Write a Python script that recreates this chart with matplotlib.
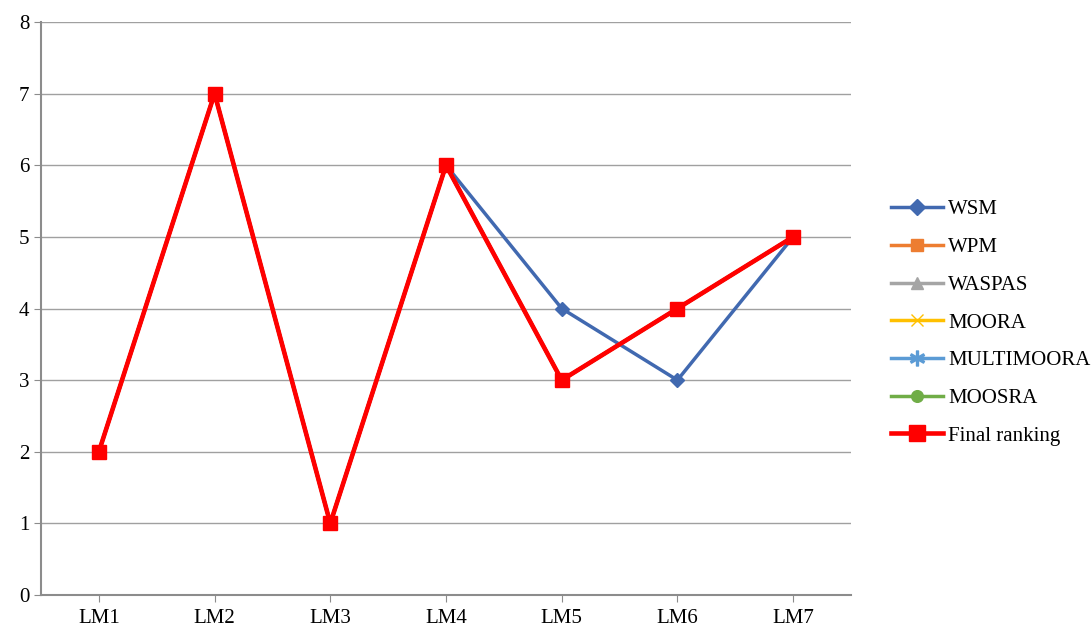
import matplotlib.pyplot as plt
import numpy as np

categories = ['LM1', 'LM2', 'LM3', 'LM4', 'LM5', 'LM6', 'LM7']
wsm = [2, 7, 1, 6, 4, 3, 5]
wpm = [2, 7, 1, 6, 3, 4, 5]
waspas = [2, 7, 1, 6, 3, 4, 5]
moora = [2, 7, 1, 6, 3, 4, 5]
multimoora = [2, 7, 1, 6, 3, 4, 5]
moosra = [2, 7, 1, 6, 3, 4, 5]
final = [2, 7, 1, 6, 3, 4, 5]

series = [
    ('WSM', wsm, '#4169B0', 'D', 7),
    ('WPM', wpm, '#ED7D31', 's', 7),
    ('WASPAS', waspas, '#A5A5A5', '^', 7),
    ('MOORA', moora, '#FFC000', 'x', 7),
    ('MULTIMOORA', multimoora, '#5B9BD5', '$\\ast$', 9),
    ('MOOSRA', moosra, '#70AD47', 'o', 7),
]

plt.rcParams['font.family'] = ['Liberation Serif', 'DejaVu Serif']

fig = plt.figure(figsize=(10.91, 6.28), dpi=100)
ax = fig.add_axes([41 / 1091, 1 - 595 / 628, 810 / 1091, 573 / 628])

x = np.arange(len(categories))
for name, vals, col, mk, ms in series:
    ax.plot(x, vals, color=col, lw=2.5, marker=mk, markersize=ms,
            markeredgecolor=col, markerfacecolor=col, label=name)
ax.plot(x, final, color='#FF0000', lw=3.3, marker='s', markersize=10,
        label='Final ranking')

ax.set_xlim(-0.5, len(categories) - 0.5)
ax.set_ylim(0, 8)
ax.set_xticks(x)
ax.set_xticklabels(categories)
ax.set_yticks(range(0, 9))
ax.yaxis.grid(True, color='#A0A0A0', lw=1)
ax.set_axisbelow(True)
for s in ['top', 'right']:
    ax.spines[s].set_visible(False)
for s in ['left', 'bottom']:
    ax.spines[s].set_color('#8C8C8C')
    ax.spines[s].set_linewidth(1.5)
ax.tick_params(axis='both', colors='#8C8C8C', labelcolor='black',
               labelsize=15, length=5)
ax.tick_params(axis='x', pad=5)

ax.legend(loc='center left', bbox_to_anchor=(1.026, 0.475), frameon=False,
          fontsize=15, handlelength=2.5, labelspacing=0.87, handletextpad=0.25,
          markerscale=1.2)

fig.savefig('out.png', dpi=100)
